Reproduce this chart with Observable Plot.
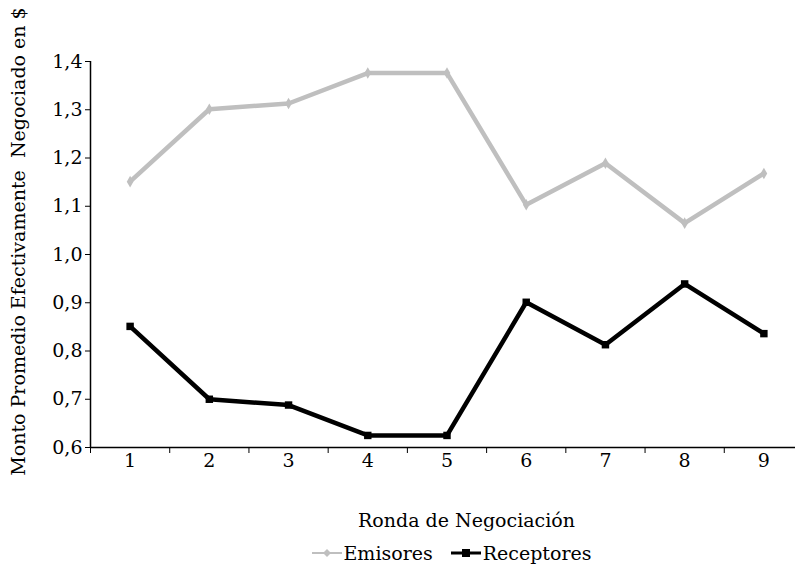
<!DOCTYPE html>
<html><head><meta charset="utf-8">
<script src="https://cdn.jsdelivr.net/npm/d3@7"></script>
<script src="https://cdn.jsdelivr.net/npm/@observablehq/plot@0.6"></script>
<style>
body{margin:0;background:#fff;font-family:"DejaVu Serif",serif;color:#000;}
#wrap{position:relative;width:795px;height:571px;overflow:hidden;}
#xtitle{position:absolute;left:0;width:933px;top:509px;text-align:center;font-size:19px;}
#legend{position:absolute;left:0;width:903px;top:542px;text-align:center;font-size:19px;white-space:nowrap;}
#legend span{display:inline-flex;align-items:center;margin:0 9px;}
#legend svg{margin-right:2px;}
</style></head>
<body><div id="wrap"><div id="chart"></div><div id="xtitle"></div><div id="legend"></div></div>
<script>
const rounds = [1, 2, 3, 4, 5, 6, 7, 8, 9];
const emisores = [1.151, 1.301, 1.313, 1.376, 1.376, 1.103, 1.189, 1.065, 1.168];
const receptores = [0.851, 0.700, 0.688, 0.625, 0.625, 0.901, 0.813, 0.939, 0.836];
const seriesNames = ["Emisores", "Receptores"];
const seriesColors = ["#bfbfbf", "#000000"];
const yTicks = [0.6, 0.7, 0.8, 0.9, 1.0, 1.1, 1.2, 1.3, 1.4];
const xBounds = [0.5, 1.5, 2.5, 3.5, 4.5, 5.5, 6.5, 7.5, 8.5, 9.5];
const yTitle = "Monto Promedio Efectivamente  Negociado en $";
const xTitle = "Ronda de Negociación";

const rows = [];
rounds.forEach((r, i) => {
  rows.push({round: r, value: emisores[i], series: seriesNames[0]});
  rows.push({round: r, value: receptores[i], series: seriesNames[1]});
});
const fmt = d => d.toFixed(1).replace(".", ",");

const chart = Plot.plot({
  width: 795,
  height: 495,
  marginLeft: 90,
  marginRight: -8,
  marginTop: 61,
  marginBottom: 48,
  style: {fontFamily: "DejaVu Serif, serif", fontSize: "19px", color: "#000", background: "#fff"},
  x: {domain: [0.5, 9.5], range: [90, 803]},
  y: {domain: [0.6, 1.4], range: [447, 61]},
  color: {domain: seriesNames, range: seriesColors},
  marks: [
    Plot.ruleY([0.6], {stroke: "#000", strokeWidth: 1.5}),
    Plot.ruleX([0.5], {y1: 0.6, y2: 1.4, stroke: "#000", strokeWidth: 1.5}),
    Plot.axisY({ticks: yTicks, tickSize: 5, tickPadding: 3, tickFormat: fmt, label: null, fontSize: 19}),
    Plot.axisX({ticks: xBounds, tickSize: 6, tickFormat: () => "", label: null}),
    Plot.axisX({ticks: rounds, tickSize: 0, tickPadding: 6, tickFormat: d => String(d), label: null, fontSize: 19}),
    Plot.line(rows, {x: "round", y: "value", z: "series", stroke: "series", strokeWidth: 4.5, strokeLinejoin: "miter"}),
    Plot.dot(rows.filter(d => d.series === seriesNames[0]), {x: "round", y: "value", symbol: "diamond", r: 3.5, fill: "series"}),
    Plot.dot(rows.filter(d => d.series === seriesNames[1]), {x: "round", y: "value", symbol: "square", r: 4.2, fill: "series"}),
    Plot.text([yTitle], {frameAnchor: "left", textAnchor: "middle", rotate: -90, dx: -72, dy: -13, fontSize: 19, fill: "#000"})
  ]
});
document.getElementById("chart").appendChild(chart);
document.getElementById("xtitle").textContent = xTitle;

const legend = document.getElementById("legend");
seriesNames.forEach((name, i) => {
  const s = document.createElement("span");
  const marker = i === 0
    ? `<rect x="0" y="7" width="30" height="2" fill="${seriesColors[i]}"/><path d="M15 4 L19 8 L15 12 L11 8 Z" fill="${seriesColors[i]}"/>`
    : `<rect x="0" y="6.5" width="30" height="3" fill="${seriesColors[i]}"/><rect x="11" y="4" width="8" height="8" fill="${seriesColors[i]}"/>`;
  s.innerHTML = `<svg width="30" height="16">${marker}</svg>${name}`;
  legend.appendChild(s);
});
</script>
</body></html>
